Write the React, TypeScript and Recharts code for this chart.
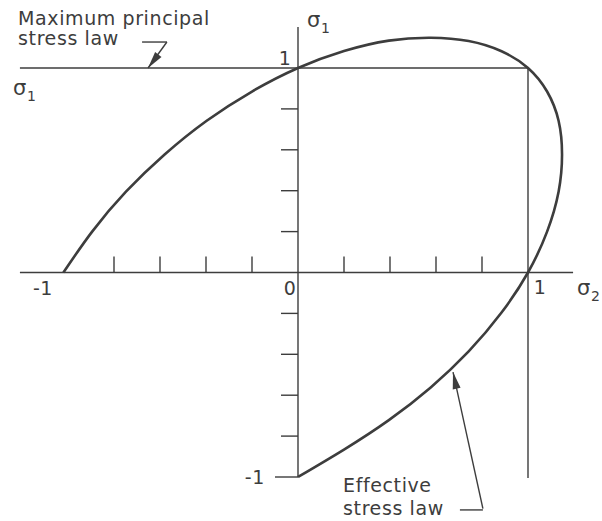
import React from "react";
import {
  ComposedChart,
  Line,
  XAxis,
  YAxis,
  ReferenceLine,
  ReferenceDot,
} from "recharts";

// traced points of the effective stress boundary (sigma2 across, sigma1 up)
const curveSigma2 = [
  -1.02, -0.895, -0.748, -0.58, -0.397, -0.2, 0, 0.2, 0.395, 0.577, 0.742,
  0.885, 1.0, 1.083, 1.133, 1.148, 1.133, 1.083, 1.0, 0.885, 0.742, 0.577,
  0.395, 0.2, 0,
];
const curveSigma1 = [
  0, 0.2, 0.395, 0.577, 0.742, 0.885, 1.0, 1.083, 1.134, 1.148, 1.132, 1.082,
  1.0, 0.885, 0.742, 0.577, 0.395, 0.2, 0, -0.196, -0.386, -0.562, -0.722,
  -0.866, -1.0,
];

const sigma2Ticks = [-0.8, -0.6, -0.4, -0.2, 0.2, 0.4, 0.6, 0.8];
const sigma1Ticks = [-0.8, -0.6, -0.4, -0.2, 0.2, 0.4, 0.6, 0.8];

const curveData = curveSigma2.map((s2, i) => ({ s2, s1: curveSigma1[i] }));

const INK = "#3d3d3d";
const FONT = "DejaVu Sans";

type TxtProps = {
  cx?: number;
  cy?: number;
  dx?: number;
  dy?: number;
  anchor?: "start" | "middle" | "end";
  children: React.ReactNode;
};

const Txt = ({ cx = 0, cy = 0, dx = 0, dy = 0, anchor = "start", children }: TxtProps) => (
  <text
    x={cx + dx}
    y={cy + dy}
    textAnchor={anchor}
    fontFamily={FONT}
    fontSize={19}
    letterSpacing={0.6}
    fill={INK}
  >
    {children}
  </text>
);

const Sigma = ({ sub }: { sub: string }) => (
  <>
    <tspan fontSize={21}>σ</tspan>
    <tspan dy={6} fontSize={14}>
      {sub}
    </tspan>
  </>
);

const label = (
  x: number,
  y: number,
  content: React.ReactNode,
  dx = 0,
  dy = 0,
  anchor: "start" | "middle" | "end" = "start"
) => (
  <ReferenceDot
    x={x}
    y={y}
    r={0}
    ifOverflow="visible"
    shape={(p: any) => (
      <Txt cx={p.cx} cy={p.cy} dx={dx} dy={dy} anchor={anchor}>
        {content}
      </Txt>
    )}
  />
);

const arrowHead = (x: number, y: number, angle: number) => (
  <ReferenceDot
    x={x}
    y={y}
    r={0}
    ifOverflow="visible"
    shape={(p: any) => (
      <polygon
        points="0,0 -17,-4 -17,4"
        fill={INK}
        transform={`translate(${p.cx},${p.cy}) rotate(${angle})`}
      />
    )}
  />
);

const seg = (x1: number, y1: number, x2: number, y2: number, w = 1.4) => (
  <ReferenceLine
    segment={[
      { x: x1, y: y1 },
      { x: x2, y: y2 },
    ]}
    stroke={INK}
    strokeWidth={w}
    ifOverflow="visible"
  />
);

export default function App() {
  return (
    <div style={{ position: "absolute", left: 0, top: 0 }}>
      <ComposedChart
        width={602}
        height={521}
        margin={{ top: 0, right: 0, bottom: 0, left: 0 }}
      >
        <XAxis
          dataKey="s2"
          type="number"
          domain={[-1.29565, 1.32174]}
          allowDataOverflow
          hide
        />
        <YAxis
          type="number"
          domain={[-1.21516, 1.33252]}
          allowDataOverflow
          hide
        />

        {/* axes and the sigma = 1 guide lines */}
        {seg(-1.209, 0, 1.196, 0)}
        {seg(0, -1.0, 0, 1.2)}
        {seg(-1.209, 1, 1, 1)}
        {seg(1, 1, 1, -1.005)}

        {sigma2Ticks.map((t) => (
          <ReferenceLine
            key={`x${t}`}
            segment={[
              { x: t, y: 0 },
              { x: t, y: 0.078 },
            ]}
            stroke={INK}
            strokeWidth={1.4}
          />
        ))}
        {sigma1Ticks.map((t) => (
          <ReferenceLine
            key={`y${t}`}
            segment={[
              { x: -0.074, y: t },
              { x: 0, y: t },
            ]}
            stroke={INK}
            strokeWidth={1.4}
          />
        ))}
        {seg(-0.1, -1, 0, -1)}

        <Line
          data={curveData}
          dataKey="s1"
          type="natural"
          stroke={INK}
          strokeWidth={2.6}
          dot={false}
          activeDot={false}
          isAnimationActive={false}
        />

        {/* leaders */}
        {seg(-0.678, 1.127, -0.57, 1.127)}
        {seg(-0.57, 1.127, -0.652, 1.0)}
        {arrowHead(-0.652, 1.0, 127.2)}
        {seg(0.704, -1.161, 0.804, -1.161)}
        {seg(0.804, -1.155, 0.674, -0.487)}
        {arrowHead(0.674, -0.487, -102.4)}

        {/* tick values */}
        {label(0, 1, "1", -13, -3, "middle")}
        {label(0, 0, "0", -8, 22, "middle")}
        {label(-1, 0, "-1", -25, 22, "middle")}
        {label(1, 0, "1", 12, 21, "middle")}
        {label(0, -1, "-1", -33, 7, "end")}

        {/* axis names */}
        {label(0.039, 1.2, <Sigma sub="1" />)}
        {label(-1.239, 0.868, <Sigma sub="1" />)}
        {label(1.213, -0.11, <Sigma sub="2" />)}

        {/* notes */}
        {label(-1.217, 1.21, "Maximum principal")}
        {label(-1.217, 1.112, "stress law")}
        {label(0.196, -1.073, "Effective")}
        {label(0.196, -1.186, "stress law")}
      </ComposedChart>
    </div>
  );
}
